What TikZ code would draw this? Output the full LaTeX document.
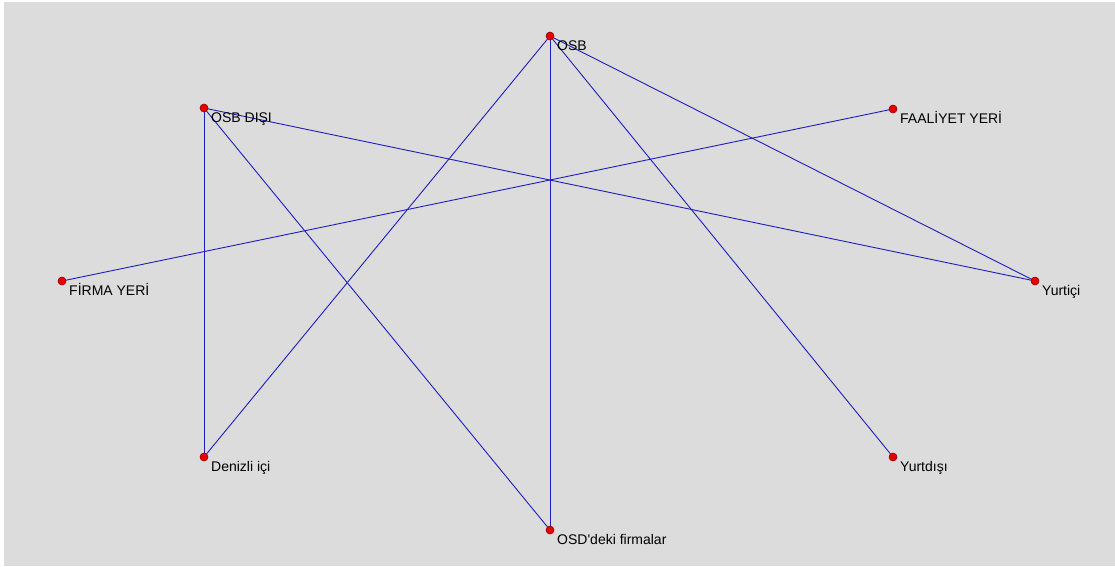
\documentclass[tikz,border=0pt]{standalone}
\usepackage{fontspec}
\setmainfont{Liberation Sans}
\newfontfamily\lbfont{Liberation Sans}
\definecolor{bggray}{RGB}{220,220,220}
\definecolor{edgeblue}{RGB}{30,30,190}
\definecolor{dotred}{RGB}{230,0,0}
\definecolor{dotedge}{RGB}{150,0,0}
\begin{document}
\begin{tikzpicture}[x=1pt,y=-1pt,
  dot/.style={circle,fill=dotred,draw=dotedge,line width=0.6pt,inner sep=0pt,minimum size=8pt},
  lbl/.style={anchor=base west,inner sep=0pt,font=\lbfont\fontsize{14}{16}\selectfont,text=black},
  edge/.style={draw=edgeblue,line width=0.9pt}]
\fill[white] (0,0) rectangle (1115,566);
\fill[bggray] (4,2) rectangle (1115,566);
\useasboundingbox (0,0) rectangle (1115,566);
% positions
\coordinate (osb) at (550,36);
\coordinate (osbd) at (204,108);
\coordinate (faal) at (893,109);
\coordinate (firma) at (62,281);
\coordinate (yurtici) at (1035,281);
\coordinate (denizli) at (204,457);
\coordinate (yurtdisi) at (893,457);
\coordinate (osd) at (550,530);
% edges
\draw[edge] (osb) -- (denizli);
\draw[edge] (osb) -- (osd);
\draw[edge] (osb) -- (yurtdisi);
\draw[edge] (osb) -- (yurtici);
\draw[edge] (osbd) -- (denizli);
\draw[edge] (osbd) -- (osd);
\draw[edge] (osbd) -- (yurtici);
\draw[edge] (firma) -- (faal);
% dots
\node[dot] (dosb) at (osb) {};
\node[dot] (dosbd) at (osbd) {};
\node[dot] (dfaal) at (faal) {};
\node[dot] (dfirma) at (firma) {};
\node[dot] (dyurtici) at (yurtici) {};
\node[dot] (ddenizli) at (denizli) {};
\node[dot] (dyurtdisi) at (yurtdisi) {};
\node[dot] (dosd) at (osd) {};
% labels
\node[lbl] (losb) at ([shift={(7,14)}]osb) {OSB};
\node[lbl] (losbd) at ([shift={(7,14)}]osbd) {OSB DIŞI};
\node[lbl] (lfaal) at ([shift={(7,14)}]faal) {FAALİYET YERİ};
\node[lbl] (lfirma) at ([shift={(7,14)}]firma) {FİRMA YERİ};
\node[lbl] (lyurtici) at ([shift={(7,14)}]yurtici) {Yurtiçi};
\node[lbl] (ldenizli) at ([shift={(7,14)}]denizli) {Denizli içi};
\node[lbl] (lyurtdisi) at ([shift={(7,14)}]yurtdisi) {Yurtdışı};
\node[lbl] (losd) at ([shift={(7,14)}]osd) {OSD'deki firmalar};
\end{tikzpicture}
\end{document}
